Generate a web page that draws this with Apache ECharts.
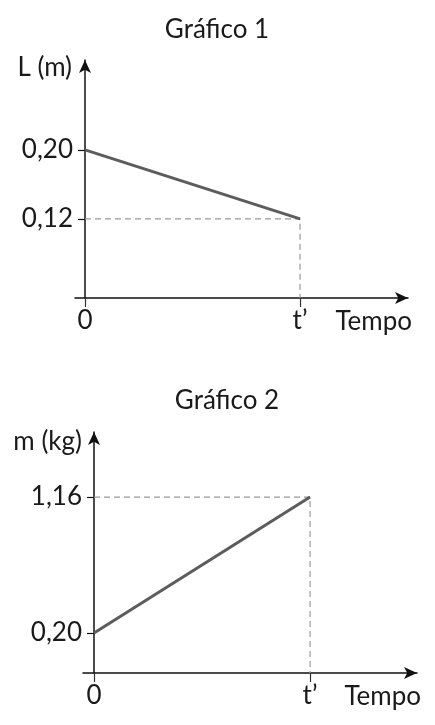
<!DOCTYPE html>
<html>
<head>
<meta charset="utf-8">
<script src="https://cdn.jsdelivr.net/npm/echarts@6/dist/echarts.min.js"></script>
<style>
html,body{margin:0;padding:0;background:#fff;}
#chart{width:435px;height:725px;}
</style>
</head>
<body>
<div id="chart"></div>
<script>
// ---- data ----
const titles = ['Gráfico 1', 'Gráfico 2'];
const yNames = ['L (m)', 'm (kg)'];
const xName = 'Tempo';
const timeValues = [0, 1];            // 0 and t'
const timeLabels = ['0', 't\u2019'];
const lengthValues = [0.20, 0.12];    // L (m)
const massValues = [0.20, 1.16];      // m (kg)
const yTicks1 = [0.20, 0.12];
const yTicks2 = [1.16, 0.20];

const FONT = 'Lato';
const FS = 26;
const TXT = '#1a1a1a';

function fmtY(v){ return v.toFixed(2).replace('.', ','); }
function fmtX(v){ const i = timeValues.indexOf(v); return i >= 0 ? timeLabels[i] : ''; }

function xAxisCfg(gridIndex, min, max){
  return {
    type:'value', gridIndex, min, max,
    splitLine:{show:false},
    axisLine:{onZero:false, lineStyle:{color:'#111', width:1.5}, symbol:['none','arrow'], symbolSize:[9,13]},
    axisTick:{show:true, customValues:timeValues, length:9, inside:false, lineStyle:{color:'#333', width:1.2}},
    axisLabel:{customValues:timeValues, formatter:fmtX, fontFamily:FONT, fontSize:FS, color:TXT, margin:10},
    name:xName, nameLocation:'end', nameGap:4,
    nameTextStyle:{fontFamily:FONT, fontSize:FS, color:TXT, align:'right', verticalAlign:'top', padding:[11,0,0,0]}
  };
}
function yAxisCfg(gridIndex, min, max, ticks, name, gap, padR, labelMargin){
  return {
    type:'value', gridIndex, min, max,
    splitLine:{show:false},
    axisLine:{onZero:true, lineStyle:{color:'#111', width:1.5}, symbol:['none','arrow'], symbolSize:[9,13]},
    axisTick:{show:true, customValues:ticks, length:7, inside:false, lineStyle:{color:'#111', width:1.2}},
    axisLabel:{customValues:ticks, formatter:fmtY, fontFamily:FONT, fontSize:FS, color:TXT, margin:labelMargin},
    name:name, nameLocation:'end', nameGap:gap,
    nameTextStyle:{fontFamily:FONT, fontSize:FS, color:TXT, align:'right', verticalAlign:'middle', padding:[0,padR,0,0]}
  };
}

const mainLine = {color:'#5c5c5c', width:3};
const dashLine = {color:'#999999', width:1.2, type:[6,4]};

const y1Min = 0.0284, y1Max = 0.304;
const y2Min = -0.082, y2Max = 1.619;

const option = {
  animation:false,
  backgroundColor:'#fff',
  title:[
    {text:titles[0], left:212, top:12, textAlign:'center', textStyle:{fontFamily:FONT, fontSize:FS, fontWeight:'normal', color:TXT}},
    {text:titles[1], left:222, top:383, textAlign:'center', textStyle:{fontFamily:FONT, fontSize:FS, fontWeight:'normal', color:TXT}}
  ],
  grid:[
    {left:75, right:27, top:60, bottom:427, containLabel:false},
    {left:83, right:18, top:432, bottom:52, containLabel:false}
  ],
  xAxis:[ xAxisCfg(0, -0.0465, 1.502), xAxisCfg(1, -0.051, 1.495) ],
  yAxis:[ yAxisCfg(0, y1Min, y1Max, yTicks1, yNames[0], -8, 13, 2), yAxisCfg(1, y2Min, y2Max, yTicks2, yNames[1], -10, 12, 1) ],
  series:[
    {type:'line', xAxisIndex:0, yAxisIndex:0, symbol:'none', lineStyle:dashLine, z:1,
     data:[[timeValues[0], lengthValues[1]], [timeValues[1], lengthValues[1]], [timeValues[1], y1Min]]},
    {type:'line', xAxisIndex:0, yAxisIndex:0, symbol:'none', lineStyle:mainLine, z:3,
     data:timeValues.map((t,i)=>[t, lengthValues[i]])},
    {type:'line', xAxisIndex:1, yAxisIndex:1, symbol:'none', lineStyle:dashLine, z:1,
     data:[[timeValues[0], massValues[1]], [timeValues[1], massValues[1]], [timeValues[1], y2Min]]},
    {type:'line', xAxisIndex:1, yAxisIndex:1, symbol:'none', lineStyle:mainLine, z:3,
     data:timeValues.map((t,i)=>[t, massValues[i]])}
  ]
};

const chart = echarts.init(document.getElementById('chart'), null, {renderer:'canvas'});
chart.setOption(option);
</script>
</body>
</html>
